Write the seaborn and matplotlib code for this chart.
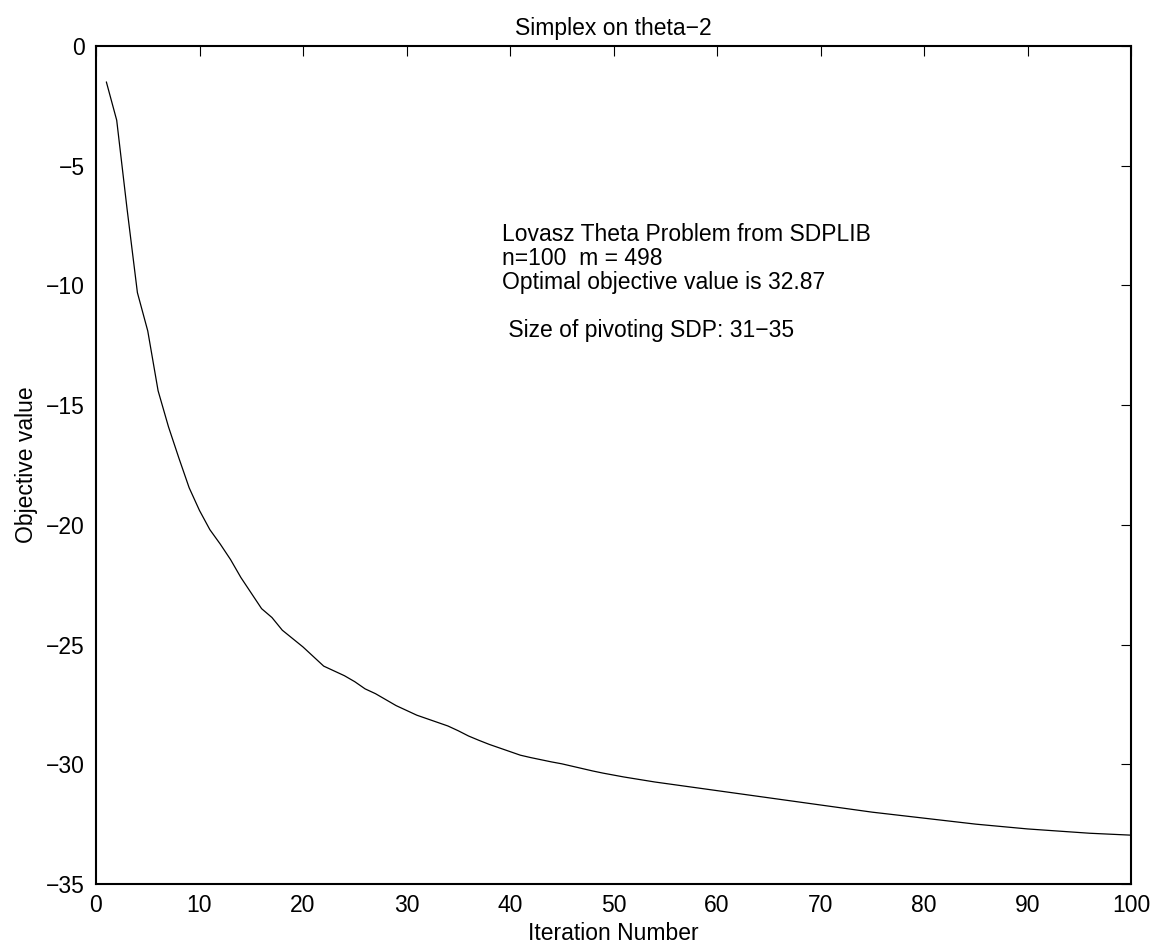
import numpy as np
import pandas as pd
import matplotlib
matplotlib.use("Agg")
import matplotlib.pyplot as plt
import seaborn as sns

# iteration numbers and objective values
iterations = list(range(1, 101))
objective = [
    -1.5, -3.1, -6.8, -10.3, -11.9, -14.4, -15.9, -17.2, -18.45, -19.4,
    -20.2, -20.8, -21.45, -22.2, -22.85, -23.5, -23.87, -24.4, -24.75, -25.1,
    -25.5, -25.9, -26.1, -26.3, -26.55, -26.85, -27.05, -27.3, -27.55, -27.75,
    -27.95, -28.1, -28.25, -28.4, -28.6, -28.82, -29.0, -29.17, -29.32, -29.47,
    -29.62, -29.72, -29.81, -29.9, -29.98, -30.08, -30.18, -30.28, -30.37, -30.45,
    -30.53, -30.6, -30.67, -30.74, -30.8, -30.86, -30.92, -30.98, -31.04, -31.1,
    -31.16, -31.22, -31.28, -31.34, -31.4, -31.46, -31.52, -31.58, -31.64, -31.7,
    -31.76, -31.82, -31.88, -31.94, -32.0, -32.05, -32.1, -32.15, -32.2, -32.25,
    -32.3, -32.35, -32.4, -32.45, -32.5, -32.54, -32.58, -32.62, -32.66, -32.7,
    -32.73, -32.76, -32.79, -32.82, -32.85, -32.88, -32.9, -32.92, -32.94, -32.96,
]

xticks = list(range(0, 101, 10))
yticks = list(range(-35, 1, 5))

title = "Simplex on theta\u22122"
note = ("Lovasz Theta Problem from SDPLIB\n"
        "n=100  m = 498\n"
        "Optimal objective value is 32.87\n"
        "\n"
        " Size of pivoting SDP: 31\u221235")

df = pd.DataFrame({"Iteration": iterations, "Objective": objective})

sns.set_theme(style="white")
plt.rcParams["font.family"] = ["Liberation Sans", "DejaVu Sans"]
plt.rcParams["axes.unicode_minus"] = True
plt.rcParams["text.color"] = "black"
plt.rcParams["axes.labelcolor"] = "black"

fig = plt.figure(figsize=(11.54, 9.47), dpi=100)
ax = fig.add_axes([96 / 1154, 63 / 947, 1035 / 1154, 838 / 947])

sns.lineplot(data=df, x="Iteration", y="Objective", color="black", linewidth=0.9, ax=ax)

ax.set_xlim(0, 100)
ax.set_ylim(-35, 0)
ax.set_xticks(xticks)
ax.set_yticks(yticks)
ax.set_yticklabels([str(v).replace("-", "\u2212") for v in yticks])
ax.tick_params(axis="both", which="both", direction="in", length=7, width=0.8,
               top=True, right=True, labelsize=16.5, colors="black")
ax.tick_params(axis="x", pad=7)
ax.tick_params(axis="y", pad=8)
for s in ax.spines.values():
    s.set_visible(True)
    s.set_color("black")
    s.set_linewidth(1.5)

ax.set_xlabel("Iteration Number", fontsize=16.5, labelpad=4, color="black")
ax.set_ylabel("Objective value", fontsize=16.5, labelpad=6, color="black")
ax.set_title(title, fontsize=16.5, pad=8, color="black")

ax.text(39.2, -7.4, note, fontsize=16.5, va="top", ha="left", linespacing=1.05,
        color="black")

fig.savefig("out.png", dpi=100)
